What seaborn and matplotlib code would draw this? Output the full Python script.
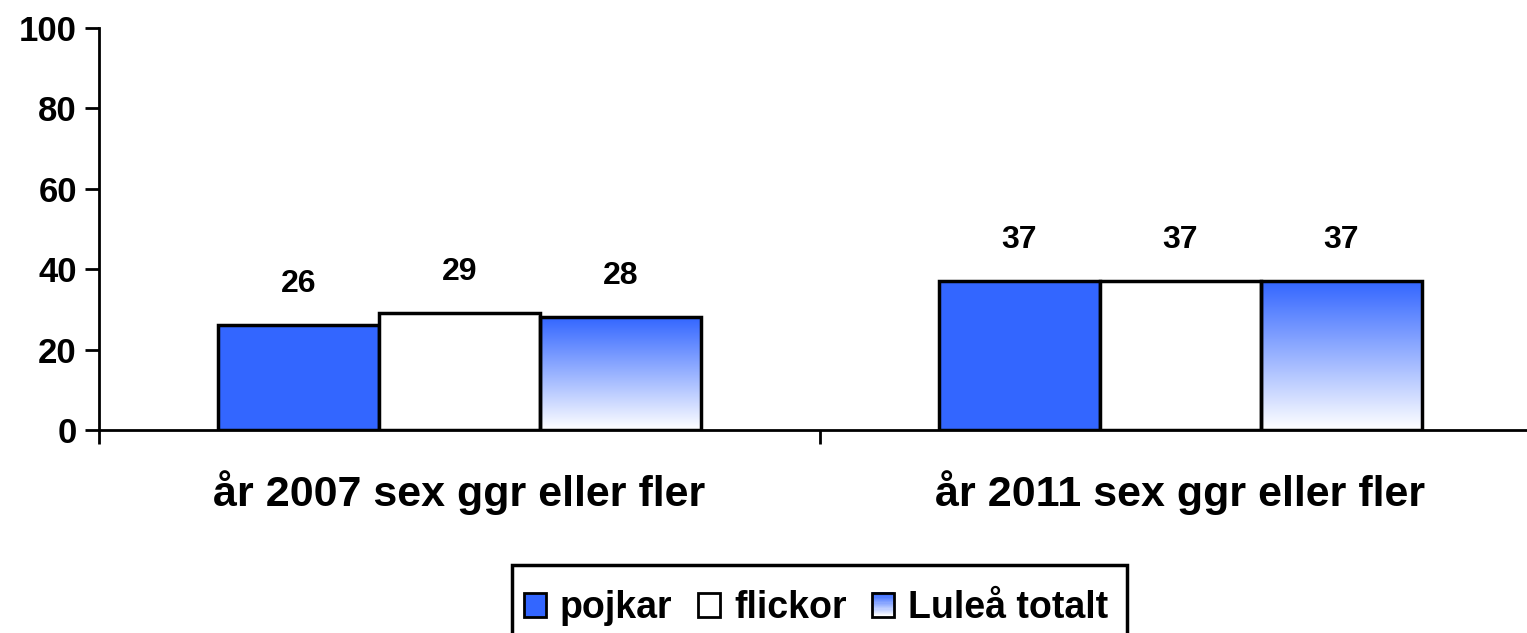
import numpy as np
import pandas as pd
import matplotlib.pyplot as plt
import seaborn as sns
from matplotlib.patches import Patch, Rectangle
from matplotlib.legend_handler import HandlerPatch

# Values
categories = ['år 2007 sex ggr eller fler', 'år 2011 sex ggr eller fler']
groups = ['pojkar', 'flickor', 'Luleå totalt']
pojkar = [26, 37]
flickor = [29, 37]
lulea_totalt = [28, 37]
yticks = [0, 20, 40, 60, 80, 100]

df = pd.DataFrame({
    'kategori': categories * 3,
    'grupp': [g for g in groups for _ in categories],
    'andel': pojkar + flickor + lulea_totalt,
})

sns.set_style('ticks')
plt.rcParams['font.family'] = ['Liberation Sans', 'DejaVu Sans']
plt.rcParams['font.weight'] = 'bold'
plt.rcParams['text.color'] = 'black'
plt.rcParams['xtick.color'] = 'black'
plt.rcParams['ytick.color'] = 'black'
plt.rcParams['axes.edgecolor'] = 'black'

blue = '#3366FF'
cmap = sns.blend_palette(['white', blue], as_cmap=True)

W, H = 1527, 633
fig = plt.figure(figsize=(W / 100, H / 100), dpi=100)
ax = fig.add_axes([99 / W, 1 - 430 / H, 1442 / W, 402 / H])

sns.barplot(data=df, x='kategori', y='andel', hue='grupp', hue_order=groups,
            palette=[blue, 'white', 'white'], saturation=1, width=0.67,
            edgecolor='black', linewidth=2.5, legend=False, ax=ax)

# gradient fill for the "Luleå totalt" bars
grad = np.linspace(0, 1, 256).reshape(-1, 1)
for bar in ax.containers[2]:
    x0, y0 = bar.get_x(), bar.get_y()
    w, h = bar.get_width(), bar.get_height()
    img = ax.imshow(grad, extent=[x0, x0 + w, y0, y0 + h], origin='lower',
                    cmap=cmap, aspect='auto', zorder=bar.get_zorder() - 0.1)
    img.set_clip_path(bar)
    bar.set_facecolor('none')

for cont in ax.containers:
    for bar in cont:
        ax.text(bar.get_x() + bar.get_width() / 2, bar.get_height() + 6.5,
                f'{bar.get_height():.0f}', ha='center', va='bottom',
                fontsize=23, fontweight='bold')

ax.set_xlim(-0.5, 1.5)
ax.set_ylim(0, 100)
ax.set_yticks(yticks)
ax.set_xticks([-0.5, 0.5, 1.5], labels=[])
ax.set_xticks([0, 1], labels=categories, minor=True)
ax.tick_params(axis='x', which='minor', length=0, pad=29, labelsize=31)
ax.tick_params(axis='x', which='major', direction='out', length=10, width=2)
ax.tick_params(axis='y', direction='out', length=10, width=2, labelsize=25, pad=6)
ax.set_xlabel('')
ax.set_ylabel('')
sns.despine(ax=ax)
for side in ['left', 'bottom']:
    ax.spines[side].set_linewidth(2)


class GradientHandler(HandlerPatch):
    # legend key drawn as thin stripes going from blue (top) to white (bottom)
    def create_artists(self, legend, orig_handle, xdescent, ydescent,
                       width, height, fontsize, trans):
        n = 20
        arts = []
        for i in range(n):
            arts.append(Rectangle((-xdescent, -ydescent + height * i / n), width,
                                  height / n + 0.3, facecolor=cmap(i / (n - 1)),
                                  edgecolor='none', transform=trans))
        arts.append(Rectangle((-xdescent, -ydescent), width, height,
                              facecolor='none', edgecolor='black', lw=2,
                              transform=trans))
        return arts


# legend box (runs off the bottom edge like in the original)
fig.patches.append(Rectangle((512 / W, -0.05), 615 / W, 0.05 + (H - 565) / H,
                             transform=fig.transFigure, facecolor='white',
                             edgecolor='black', lw=2.5, zorder=1))
handles = [Patch(facecolor=blue, edgecolor='black', lw=2),
           Patch(facecolor='white', edgecolor='black', lw=2),
           Patch(facecolor='#a8b9fb', edgecolor='black', lw=2)]
leg = fig.legend(handles, groups, loc='center', bbox_to_anchor=(816 / W, 1 - 608 / H),
                 ncol=3, frameon=False, fontsize=27, handlelength=0.6,
                 handleheight=0.6, handletextpad=0.37, columnspacing=0.67,
                 borderpad=0, handler_map={handles[2]: GradientHandler()})
leg.set_zorder(2)

fig.savefig('out.png', dpi=100)
